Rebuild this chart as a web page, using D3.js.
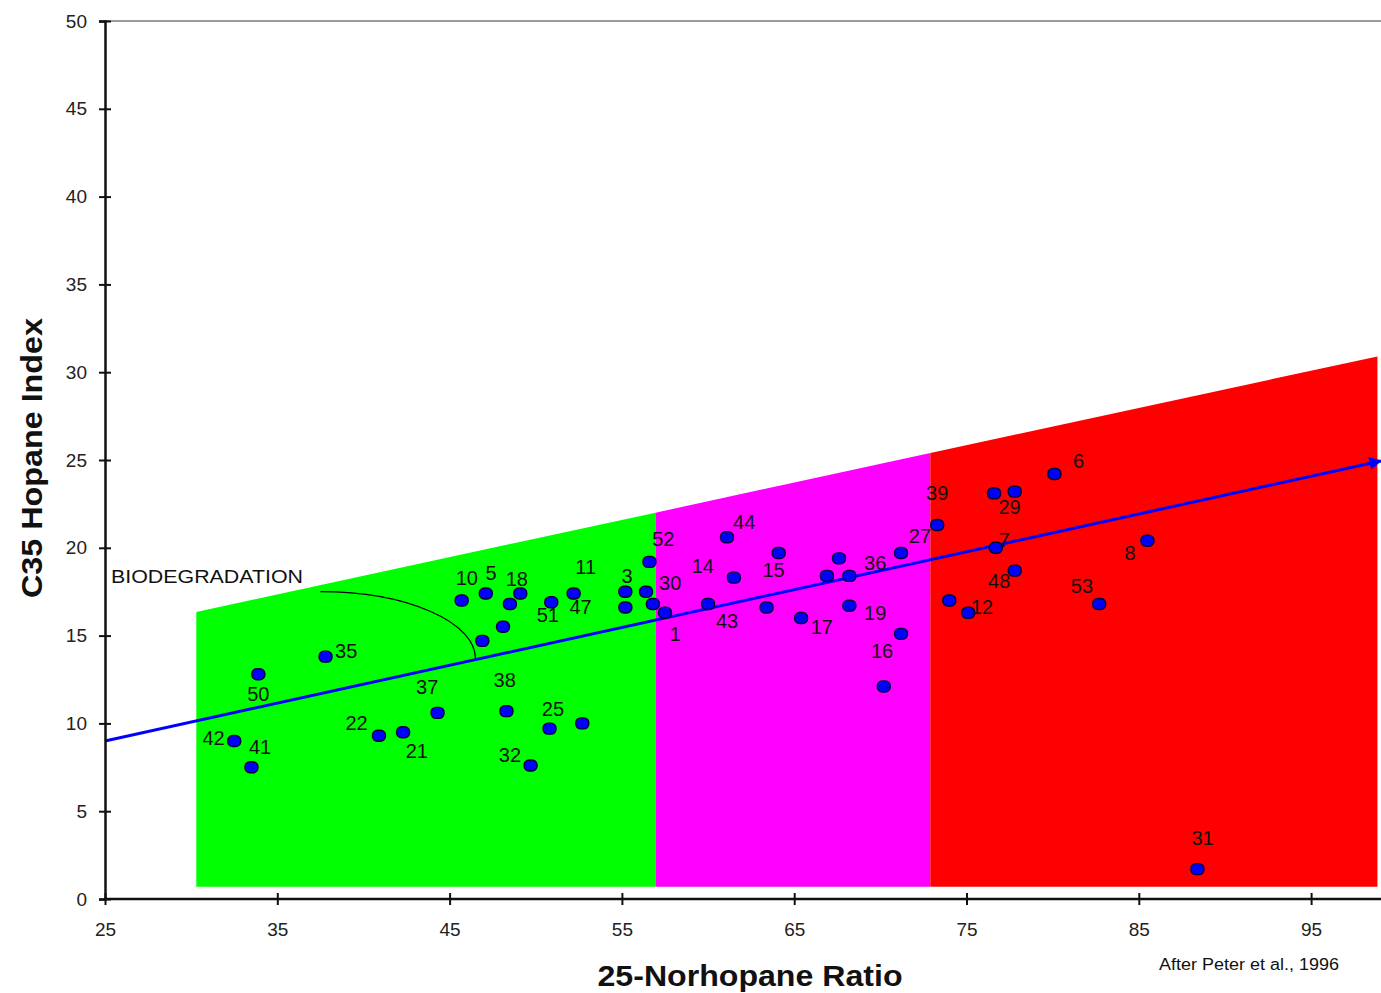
<!DOCTYPE html>
<html>
<head>
<meta charset="utf-8">
<script src="https://cdn.jsdelivr.net/npm/d3@7"></script>
<style>
  body { margin: 0; background: #fff; }
  svg { display: block; font-family: "Liberation Sans", Arial, sans-serif; }
</style>
</head>
<body>
<svg id="chart" width="1381" height="993"></svg>
<script>
// Sample points: 25-Norhopane ratio (x) and C35 hopane index (y)
const ptX = [32.5, 33.5, 33.9, 37.8, 40.9, 42.3, 44.3, 45.7, 47.1, 46.9,
             48.1, 48.5, 49.1, 48.3, 49.7, 50.8, 50.9, 52.7, 52.2, 55.2,
             55.2, 56.6, 56.4, 56.8, 57.5, 60.0, 61.1, 61.5, 63.4, 64.1,
             65.4, 66.9, 67.6, 68.2, 68.2, 71.2, 71.2, 70.2, 73.3, 74.0,
             75.1, 76.6, 77.8, 76.7, 77.8, 80.1, 82.7, 85.5, 88.4];
const ptY = [9.0, 7.5, 12.8, 13.8, 9.3, 9.5, 10.6, 17.0, 17.4, 14.7,
             15.5, 16.8, 17.4, 10.7, 7.6, 9.7, 16.9, 10.0, 17.4, 17.5,
             16.6, 19.2, 17.5, 16.8, 16.3, 16.8, 20.6, 18.3, 16.6, 19.7,
             16.0, 18.4, 19.4, 18.4, 16.7, 19.7, 15.1, 12.1, 21.3, 17.0,
             16.3, 23.1, 23.2, 20.0, 18.7, 24.2, 16.8, 20.4, 1.7];

// Sample number labels (placed in data units)
const labelText = ["42", "41", "50", "35", "22", "21", "37", "10", "5", "18",
                   "38", "32", "25", "51", "11", "47", "3", "52", "30", "1",
                   "44", "14", "43", "15", "17", "36", "19", "16", "27", "39",
                   "12", "29", "7", "48", "6", "53", "8", "31"];
const labelX = [31.3, 34.0, 33.9, 39.0, 39.6, 43.1, 43.7, 46.0, 47.4, 48.9,
                48.2, 48.5, 51.0, 50.7, 52.9, 52.6, 55.3, 57.4, 57.8, 58.1,
                62.1, 59.7, 61.1, 63.8, 66.6, 69.7, 69.7, 70.1, 72.3, 73.3,
                75.9, 77.5, 77.2, 76.9, 81.5, 81.7, 84.5, 88.7];
const labelY = [9.15, 8.65, 11.65, 14.15, 10.05, 8.45, 12.1, 18.3, 18.55, 18.2,
                12.45, 8.2, 10.8, 16.15, 18.9, 16.65, 18.4, 20.5, 18.0, 15.1,
                21.45, 18.95, 15.85, 18.75, 15.5, 19.15, 16.3, 14.15, 20.65, 23.1,
                16.65, 22.3, 20.45, 18.1, 24.95, 17.8, 19.7, 3.5];

// Shaded zones: breaks along x and top edge at each break
const zoneBreaks = [30.3, 56.95, 72.9, 98.85];
const zoneTop = [16.35, 22.0, 25.4, 30.9];
const zoneBottom = 0.7;
const zoneColors = ["#00ff00", "#ff00ff", "#ff0000"];

// Trend line
const trendX = [25, 99.05];
const trendY = [9.0, 24.95];

// Biodegradation arc (start / end in data units)
const arcX = [37.5, 46.5];
const arcY = [17.5, 13.7];

const xTicks = [25, 35, 45, 55, 65, 75, 85, 95];
const yTicks = [0, 5, 10, 15, 20, 25, 30, 35, 40, 45, 50];

const svg = d3.select('#chart');
const x = d3.scaleLinear().domain([25, 100]).range([105, 1397.25]);
const y = d3.scaleLinear().domain([0, 50]).range([899, 21]);

// top border
svg.append('line')
  .attr('x1', x(25)).attr('x2', 1381)
  .attr('y1', y(50)).attr('y2', y(50))
  .attr('stroke', '#9a9a9a').attr('stroke-width', 2);

// zones
zoneColors.forEach((c, i) => {
  const pts = [
    [x(zoneBreaks[i]), y(zoneBottom)],
    [x(zoneBreaks[i]), y(zoneTop[i])],
    [x(zoneBreaks[i + 1]), y(zoneTop[i + 1])],
    [x(zoneBreaks[i + 1]), y(zoneBottom)]
  ];
  svg.append('polygon')
    .attr('points', pts.map(p => p.join(',')).join(' '))
    .attr('fill', c);
});

// trend line with arrow
svg.append('defs').append('marker')
  .attr('id', 'arrow')
  .attr('viewBox', '0 0 10 10')
  .attr('refX', 9).attr('refY', 5)
  .attr('markerWidth', 4.3).attr('markerHeight', 6.3)
  .attr('markerUnits', 'strokeWidth')
  .attr('orient', 'auto')
  .append('path').attr('d', 'M0,0 L10,5 L0,10 Z').attr('fill', '#0000ff');

svg.append('line')
  .attr('x1', x(trendX[0])).attr('y1', y(trendY[0]))
  .attr('x2', x(trendX[1])).attr('y2', y(trendY[1]))
  .attr('stroke', '#0000ff').attr('stroke-width', 3)
  .attr('marker-end', 'url(#arrow)');

// biodegradation arc
const ax0 = x(arcX[0]), ay0 = y(arcY[0]), ax1 = x(arcX[1]), ay1 = y(arcY[1]);
svg.append('path')
  .attr('d', `M${ax0},${ay0} A${ax1 - ax0},${ay1 - ay0} 0 0 1 ${ax1},${ay1}`)
  .attr('fill', 'none').attr('stroke', '#000').attr('stroke-width', 1.3);

svg.append('text')
  .attr('x', 111).attr('y', y(18.35))
  .attr('dominant-baseline', 'central')
  .attr('font-size', 18).attr('fill', '#111')
  .attr('textLength', 192).attr('lengthAdjust', 'spacingAndGlyphs')
  .text('BIODEGRADATION');

// points
const pts = ptX.map((d, i) => ({x: d, y: ptY[i]}));
svg.selectAll('rect.pt').data(pts).enter().append('rect')
  .attr('class', 'pt')
  .attr('x', d => x(d.x) - 6.5).attr('y', d => y(d.y) - 5.5)
  .attr('width', 13).attr('height', 11)
  .attr('rx', 5).attr('ry', 5)
  .attr('fill', '#0000ff').attr('stroke', '#000033').attr('stroke-width', 1.4);

// point labels
svg.selectAll('text.lbl').data(labelText).enter().append('text')
  .attr('class', 'lbl')
  .attr('x', (d, i) => x(labelX[i])).attr('y', (d, i) => y(labelY[i]))
  .attr('text-anchor', 'middle').attr('dominant-baseline', 'central')
  .attr('font-size', 20).attr('fill', '#111')
  .text(d => d);

// axes
const yAxis = svg.append('g')
  .attr('transform', `translate(${x(25)},0)`)
  .call(d3.axisLeft(y).tickValues(yTicks).tickSize(6).tickPadding(12));
const xAxis = svg.append('g')
  .attr('transform', `translate(0,${y(0)})`)
  .call(d3.axisBottom(x).tickValues(xTicks).tickSize(6).tickPadding(18));
xAxis.select('.domain').attr('d', `M${x(25)},0H1381`);

[yAxis, xAxis].forEach(g => {
  g.select('.domain').attr('stroke', '#111').attr('stroke-width', 2.5);
  g.selectAll('.tick text').attr('font-size', 19).attr('fill', '#222')
    .attr('font-family', '"Liberation Sans", Arial, sans-serif');
});
yAxis.selectAll('.tick line').attr('x1', -6).attr('x2', 6).attr('stroke', '#111').attr('stroke-width', 2);
yAxis.selectAll('.tick text').attr('x', -18);
xAxis.selectAll('.tick line').attr('y1', -6).attr('y2', 6).attr('stroke', '#111').attr('stroke-width', 2);
xAxis.selectAll('.tick text').attr('dy', '0.71em');

// titles
svg.append('text')
  .attr('x', 750).attr('y', 976)
  .attr('text-anchor', 'middle').attr('dominant-baseline', 'central')
  .attr('font-size', 29).attr('font-weight', 'bold').attr('fill', '#111')
  .attr('textLength', 305).attr('lengthAdjust', 'spacingAndGlyphs')
  .text('25-Norhopane Ratio');

svg.append('text')
  .attr('transform', 'translate(32,458) rotate(-90)')
  .attr('text-anchor', 'middle').attr('dominant-baseline', 'central')
  .attr('font-size', 29).attr('font-weight', 'bold').attr('fill', '#111')
  .attr('textLength', 280).attr('lengthAdjust', 'spacingAndGlyphs')
  .text('C35 Hopane Index');

svg.append('text')
  .attr('x', 1249).attr('y', 964)
  .attr('text-anchor', 'middle').attr('dominant-baseline', 'central')
  .attr('font-size', 16).attr('fill', '#111')
  .attr('textLength', 180).attr('lengthAdjust', 'spacingAndGlyphs')
  .text('After Peter et al., 1996');
</script>
</body>
</html>
